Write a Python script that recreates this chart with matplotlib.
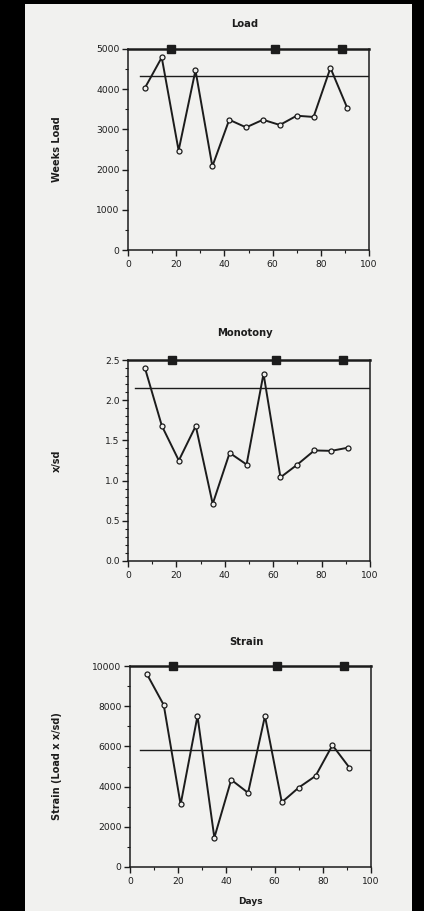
import matplotlib
matplotlib.use("Agg")
import matplotlib.pyplot as plt
from matplotlib.patches import Rectangle
from matplotlib.ticker import MultipleLocator

days = [7, 14, 21, 28, 35, 42, 49, 56, 63, 70, 77, 84, 91]
load = [4030, 4790, 2475, 4470, 2080, 3240, 3050, 3240, 3110, 3340, 3310, 4530, 3530]
monotony = [2.40, 1.68, 1.25, 1.68, 0.71, 1.345, 1.20, 2.33, 1.04, 1.20, 1.375, 1.37, 1.41]
strain = [9600, 8060, 3110, 7510, 1460, 4340, 3690, 7510, 3220, 3950, 4530, 6060, 4950]
mean_load = 4330
mean_monotony = 2.155
mean_strain = 5800
event_days = [18, 61, 89]

titles = ["Load", "Monotony", "Strain"]
ylabels = ["Weeks Load", "x/sd", "Strain (Load x x/sd)"]
ylims = [(0, 5000), (0, 2.5), (0, 10000)]
major_steps = [1000, 0.5, 2000]
minor_steps = [500, 0.1, 1000]
y_formats = ["{:.0f}", "{:.1f}", "{:.0f}"]
series = [load, monotony, strain]
means = [mean_load, mean_monotony, mean_strain]
mean_starts = [5, 3, 4]

W, H = 424, 911
fig = plt.figure(figsize=(W / 100, H / 100), dpi=100, facecolor="black")
paper = Rectangle((25 / W, 0), (412 - 25) / W, (H - 4) / H,
                  transform=fig.transFigure, facecolor="#f1f1ef",
                  edgecolor="none", zorder=-10)
fig.patches.append(paper)

ink = "#1c1c1c"
# axes pixel boxes: left, right, top, bottom
boxes = [(128, 369, 49, 250), (128, 370, 360, 561), (130, 371, 666, 867)]
title_y = [24, 333, 642]

for i in range(3):
    l, r, t, b = boxes[i]
    ax = fig.add_axes([l / W, 1 - b / H, (r - l) / W, (b - t) / H])
    ax.set_zorder(1)
    ax.set_facecolor("none")
    ax.set_xlim(0, 100)
    ax.set_ylim(*ylims[i])
    for s in ["left", "bottom", "right"]:
        ax.spines[s].set_color(ink)
        ax.spines[s].set_linewidth(1.1)
    ax.spines["top"].set_visible(False)
    # top bar with event markers
    ax.plot([0, 100], [ylims[i][1]] * 2, color=ink, lw=1.8, clip_on=False, zorder=3)
    ax.plot(event_days, [ylims[i][1]] * len(event_days), ls="none", marker="s",
            ms=6.3, color=ink, clip_on=False, zorder=4)
    # mean line
    ax.plot([mean_starts[i], 100], [means[i]] * 2, color=ink, lw=1.0, zorder=2)
    # data
    ax.plot(days, series[i], color=ink, lw=1.4, marker="o", ms=3.6,
            mfc="#f1f1ef", mec=ink, mew=0.9, zorder=5, clip_on=False)

    ax.xaxis.set_major_locator(MultipleLocator(20))
    ax.xaxis.set_minor_locator(MultipleLocator(10))
    ax.yaxis.set_major_locator(MultipleLocator(major_steps[i]))
    ax.yaxis.set_minor_locator(MultipleLocator(minor_steps[i]))
    ax.set_yticks(ax.get_yticks())
    ax.set_yticklabels([y_formats[i].format(v) for v in ax.get_yticks()])
    ax.set_ylim(*ylims[i])
    ax.tick_params(which="major", direction="out", length=4, width=1.0,
                   color=ink, labelcolor=ink, labelsize=6.6, pad=2)
    ax.tick_params(which="minor", direction="out", length=2, width=0.8, color=ink)
    ax.tick_params(axis="x", pad=3)

    ax.set_ylabel(ylabels[i], fontsize=7, fontweight="bold", color=ink)
    ax.yaxis.set_label_coords((62 - l) / (r - l), 0.5)

    fig.text(((l + r) / 2 - 4) / W, 1 - title_y[i] / H, titles[i], ha="center",
             va="center", fontsize=7.2, fontweight="bold", color=ink)

fig.text(250 / W, 1 - 902 / H, "Days", ha="center", va="center",
         fontsize=6.5, fontweight="bold", color=ink)

fig.savefig("out.png", dpi=100, facecolor="black")
